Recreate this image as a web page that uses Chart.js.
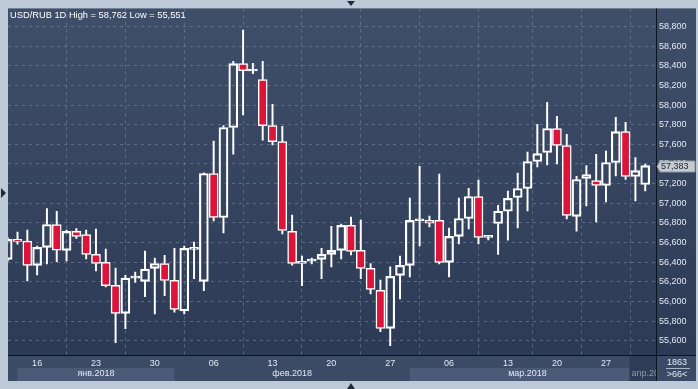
<!DOCTYPE html>
<html lang="ru">
<head>
  <meta charset="UTF-8">
  <title>USD/RUB 1D</title>
  <script src="https://cdn.jsdelivr.net/npm/chart.js"></script>
  <style>
    html, body { margin: 0; padding: 0; background: #bfcad8; }
  </style>
</head>
<body>
  <canvas id="chart" width="698" height="389"></canvas>

  <script>
    // daily candles, index 0..65 (mid Jan - end Mar 2018)
    const opens  = [56428, 56632, 56614, 56367, 56550, 56784, 56520, 56713, 56682, 56479,
                    56398, 56164, 55879, 56238, 56204, 56337, 56387, 56214, 55905, 56530,
                    56204, 57303, 56855, 57771, 58422, 58347, 58259, 57791, 57628, 56713,
                    56387, 56410, 56428, 56479, 56520, 56774, 56520, 56337, 56113, 55726,
                    56265, 56367, 56822, 56825, 56825, 56398, 56662, 56845, 57069, 56652,
                    56794, 56919, 57059, 57150, 57425, 57517, 57761, 57588, 56866, 57252,
                    57232, 57181, 57415, 57730, 57272, 57191];
    const highs  = [56650, 56706, 56726, 56563, 56947, 56919, 56726, 56743, 56726, 56736,
                    56533, 56340, 56265, 56299, 56513, 56441, 56469, 56540, 56563, 56604,
                    57310, 57632, 57791, 58445, 58762, 58425, 58445, 58008, 57784, 56879,
                    56462, 56441, 56540, 56764, 56787, 56858, 56828, 56387, 56217, 56353,
                    56462, 57052, 57377, 56869, 57296, 56747, 57052, 57153, 57235, 56668,
                    56980, 57123, 57306, 57520, 57804, 58028, 57886, 57703, 57275, 57384,
                    57499, 57530, 57876, 57825, 57466, 57398];
    const lows   = [56410, 56584, 56210, 56271, 56383, 56404, 56414, 56642, 56434, 56312,
                    56149, 55580, 55722, 56194, 56048, 55872, 56058, 55892, 55872, 56231,
                    56109, 56821, 56699, 57499, 57899, 58320, 57642, 57594, 56689, 56370,
                    56160, 56383, 56231, 56353, 56434, 56475, 56231, 56078, 55692, 55551,
                    56027, 56251, 56566, 56760, 56383, 56251, 56587, 56739, 56587, 56627,
                    56479, 56624, 56750, 56922, 57370, 57390, 57401, 56841, 56716, 56973,
                    56811, 57014, 57279, 57242, 57024, 57126];
    const closes = [56632, 56611, 56367, 56550, 56784, 56523, 56713, 56662, 56479, 56387,
                    56160, 55879, 56238, 56240, 56329, 56387, 56214, 55919, 56540, 56532,
                    57303, 56855, 57771, 58422, 58351, 58349, 57791, 57628, 56723, 56387,
                    56408, 56412, 56479, 56520, 56774, 56509, 56337, 56123, 55726, 56255,
                    56367, 56825, 56825, 56797, 56398, 56662, 56845, 57069, 56652, 56654,
                    56919, 57049, 57150, 57425, 57506, 57761, 57588, 56876, 57242, 57293,
                    57181, 57415, 57730, 57272, 57333, 57383];

    const weekTicks  = [3, 9, 15, 21, 27, 33, 39, 45, 51, 56, 61];
    const weekLabels = ['16', '23', '30', '06', '13', '20', '27', '06', '13', '20', '27'];
    const monthNames  = ['янв.2018', 'фев.2018', 'мар.2018', 'апр.2018'];
    const monthStarts = [1, 17, 41, 63.4];
    const monthMids   = [9, 29, 53, 63.4];
    const yTicks = [55600, 55800, 56000, 56200, 56400, 56600, 56800, 57000, 57200, 57400,
                    57600, 57800, 58000, 58200, 58400, 58600, 58800];

    const fmt = v => String(v).replace(/\B(?=(\d{3})+(?!\d))/g, ',');
    const axisFont = { family: 'Liberation Sans', size: 9 };
    const textColor = '#e3e9f4';

    const bodies = opens.map((o, i) => ({ x: i, y: [o, closes[i]] }));
    const upperWicks = opens.map((o, i) => ({ x: i, y: [Math.max(o, closes[i]), highs[i]] }));
    const lowerWicks = opens.map((o, i) => ({ x: i, y: [lows[i], Math.min(o, closes[i])] }));
    const bodyFill = opens.map((o, i) => closes[i] < o ? '#dc1439' : 'rgba(0,0,0,0)');

    const framePlugin = {
      id: 'frame',
      beforeDraw(chart) {
        const { ctx, chartArea: a, width, height } = chart;
        const xs = chart.scales.x, ys = chart.scales.y;
        ctx.save();
        ctx.fillStyle = '#bfcad8';
        ctx.fillRect(0, 0, width, height);

        const g = ctx.createLinearGradient(0, a.top, 0, a.bottom);
        g.addColorStop(0, '#3f4e69');
        g.addColorStop(1, '#2c3a55');
        ctx.fillStyle = g;
        ctx.fillRect(a.left, a.top, ys.right - a.left, a.bottom - a.top);

        // bottom axis panel + month bands
        ctx.fillStyle = '#3b4a65';
        ctx.fillRect(a.left, a.bottom, ys.right - a.left, xs.bottom - a.bottom);
        const bandTop = a.bottom + 13;
        ctx.fillStyle = '#4a5a77';
        [0, 2].forEach(m => {
          const x0 = xs.getPixelForValue(monthStarts[m]);
          const x1 = m + 1 < monthStarts.length ? xs.getPixelForValue(monthStarts[m + 1]) : a.right;
          ctx.fillRect(x0, bandTop, x1 - x0, xs.bottom - bandTop);
        });
        const xa = xs.getPixelForValue(monthStarts[3]);
        ctx.fillStyle = '#2f3c56';
        ctx.fillRect(xa, a.bottom, a.right - xa, xs.bottom - a.bottom);
        ctx.restore();
      },
      afterDraw(chart) {
        const { ctx, chartArea: a } = chart;
        const xs = chart.scales.x, ys = chart.scales.y;
        ctx.save();

        // month labels
        ctx.font = '9px "Liberation Sans"';
        ctx.fillStyle = textColor;
        ctx.textBaseline = 'middle';
        const my = a.bottom + 19;
        monthNames.forEach((name, m) => {
          const x = xs.getPixelForValue(monthMids[m]);
          if (m === 3) {
            ctx.save();
            ctx.beginPath();
            ctx.rect(x, a.bottom, a.right - x, 30);
            ctx.clip();
            ctx.fillStyle = '#8d99ad';
            ctx.textAlign = 'left';
            ctx.fillText(name, x + 2, my);
            ctx.restore();
          } else {
            ctx.textAlign = 'center';
            ctx.fillText(name, x, my);
          }
        });

        // separators
        ctx.strokeStyle = '#0d1320';
        ctx.lineWidth = 1;
        ctx.beginPath();
        ctx.moveTo(a.right + 0.5, a.top);
        ctx.lineTo(a.right + 0.5, xs.bottom);
        ctx.moveTo(a.left, a.bottom + 0.5);
        ctx.lineTo(ys.right, a.bottom + 0.5);
        ctx.stroke();

        // corner box
        const cx = (a.right + ys.right) / 2 + 1;
        ctx.textAlign = 'center';
        ctx.fillStyle = textColor;
        ctx.fillText('1863', cx, a.bottom + 8);
        ctx.fillText('>66<', cx, a.bottom + 20);
        ctx.strokeStyle = '#aab4c4';
        ctx.beginPath();
        ctx.moveTo(a.right + 10, a.bottom + 13.5);
        ctx.lineTo(ys.right - 6, a.bottom + 13.5);
        ctx.stroke();

        // last price tag
        const last = closes[closes.length - 1];
        const py = Math.round(ys.getPixelForValue(last)) + 0.5;
        ctx.fillStyle = '#c6cbd2';
        ctx.strokeStyle = '#8c95a3';
        ctx.beginPath();
        ctx.moveTo(a.right + 1, py);
        ctx.lineTo(a.right + 4, py - 5.5);
        ctx.lineTo(ys.right - 1, py - 5.5);
        ctx.lineTo(ys.right - 1, py + 5.5);
        ctx.lineTo(a.right + 4, py + 5.5);
        ctx.closePath();
        ctx.fill();
        ctx.stroke();
        ctx.fillStyle = '#1b2230';
        ctx.textAlign = 'left';
        ctx.fillText(fmt(last), a.right + 5, py + 0.5);

        // title
        ctx.font = '9.3px "Liberation Sans"';
        ctx.fillStyle = '#ffffff';
        ctx.fillText('USD/RUB 1D High = ' + fmt(Math.max(...highs)) + ' Low = ' + fmt(Math.min(...lows)), a.left + 2, a.top + 7);

        // little scroll arrows on the frame
        ctx.fillStyle = '#1f2a3c';
        const cxm = 351;
        ctx.beginPath();
        ctx.moveTo(cxm - 4, 1); ctx.lineTo(cxm + 4, 1); ctx.lineTo(cxm, 6); ctx.closePath(); ctx.fill();
        ctx.beginPath();
        ctx.moveTo(cxm - 4, 389); ctx.lineTo(cxm + 4, 389); ctx.lineTo(cxm, 383); ctx.closePath(); ctx.fill();
        ctx.beginPath();
        ctx.moveTo(1, 188); ctx.lineTo(6, 193); ctx.lineTo(1, 198); ctx.closePath(); ctx.fill();
        ctx.restore();
      }
    };

    new Chart(document.getElementById('chart'), {
      type: 'bar',
      data: {
        datasets: [{
          label: 'body',
          data: bodies,
          backgroundColor: bodyFill,
          borderColor: '#ffffff',
          borderWidth: 1.5,
          borderSkipped: false,
          barThickness: 9,
          minBarLength: 2,
          grouped: false,
          order: 0
        }, {
          label: 'upper wick',
          data: upperWicks,
          backgroundColor: '#ffffff',
          borderWidth: 0,
          barThickness: 1.3,
          grouped: false,
          order: 1
        }, {
          label: 'lower wick',
          data: lowerWicks,
          backgroundColor: '#ffffff',
          borderWidth: 0,
          barThickness: 1.3,
          grouped: false,
          order: 1
        }]
      },
      options: {
        responsive: false,
        animation: false,
        layout: { padding: { left: 8, top: 8, right: 2, bottom: 8 } },
        plugins: { legend: { display: false }, tooltip: { enabled: false } },
        scales: {
          x: {
            type: 'linear',
            offset: false,
            min: 0.03,
            max: 66.1,
            afterBuildTicks: s => { s.ticks = weekTicks.map(v => ({ value: v })); },
            afterFit: s => { s.height = 26; },
            ticks: {
              autoSkip: false,
              maxRotation: 0,
              padding: 3,
              color: textColor,
              font: axisFont,
              callback: (v, i) => weekLabels[i]
            },
            grid: { color: 'rgba(125,142,170,0.55)', drawTicks: false },
            border: { display: false, dash: [3, 4] }
          },
          y: {
            position: 'right',
            min: 55455,
            max: 58984,
            afterBuildTicks: s => { s.ticks = yTicks.map(v => ({ value: v })); },
            afterFit: s => { s.width = 40; },
            ticks: {
              padding: 3,
              color: textColor,
              font: axisFont,
              callback: v => fmt(v)
            },
            grid: { color: 'rgba(125,142,170,0.55)', drawTicks: false },
            border: { display: false, dash: [3, 4] }
          }
        }
      },
      plugins: [framePlugin]
    });
  </script>
</body>
</html>
